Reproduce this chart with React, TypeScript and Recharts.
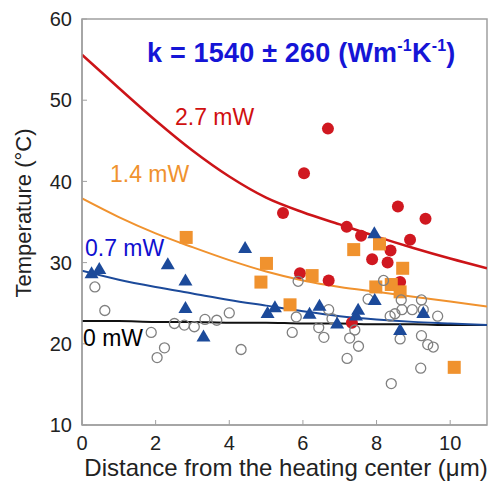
import React from 'react';
import {
  ComposedChart, Line, Scatter, XAxis, YAxis, ReferenceArea,
} from 'recharts';

// fitted curves, read at integer distances (µm)
const curveX = [0, 1, 2, 3, 4, 5, 6, 7, 8, 9, 10, 11];
const fit27 = [55.6, 51.5, 47.5, 43.8, 40.6, 38.0, 36.2, 34.7, 33.2, 31.8, 30.5, 29.3];
const fit14 = [37.9, 35.6, 33.6, 31.9, 30.3, 28.9, 27.8, 27.0, 26.4, 25.8, 25.2, 24.6];
const fit07 = [29.0, 27.9, 27.0, 26.2, 25.4, 24.7, 24.0, 23.4, 23.0, 22.7, 22.5, 22.3];
const fit00 = [22.8, 22.8, 22.7, 22.7, 22.6, 22.6, 22.5, 22.5, 22.4, 22.4, 22.3, 22.3];

// measured points
const pts27 = [
  { x: 5.46, y: 36.1 }, { x: 5.92, y: 28.7 }, { x: 6.03, y: 41.0 }, { x: 6.68, y: 46.5 },
  { x: 6.7, y: 27.8 }, { x: 7.19, y: 34.4 }, { x: 7.33, y: 22.6 }, { x: 7.58, y: 33.3 },
  { x: 7.88, y: 30.4 }, { x: 8.3, y: 30.0 }, { x: 8.38, y: 31.5 }, { x: 8.58, y: 36.9 },
  { x: 8.64, y: 27.6 }, { x: 8.91, y: 32.8 }, { x: 9.33, y: 35.4 },
];
const pts14 = [
  { x: 2.83, y: 33.1 }, { x: 4.86, y: 27.6 }, { x: 5.01, y: 29.9 }, { x: 5.65, y: 24.8 },
  { x: 6.25, y: 28.4 }, { x: 7.38, y: 31.6 }, { x: 7.98, y: 27.0 }, { x: 8.08, y: 32.3 },
  { x: 8.4, y: 27.3 }, { x: 8.64, y: 26.4 }, { x: 8.71, y: 29.3 }, { x: 10.11, y: 17.1 },
];
const pts07 = [
  { x: 0.26, y: 28.7 }, { x: 0.47, y: 29.2 }, { x: 2.33, y: 29.8 }, { x: 2.81, y: 27.8 },
  { x: 2.81, y: 24.4 }, { x: 3.3, y: 20.9 }, { x: 4.43, y: 31.8 }, { x: 5.04, y: 23.8 },
  { x: 5.24, y: 24.5 }, { x: 6.18, y: 23.7 }, { x: 6.45, y: 24.7 }, { x: 6.93, y: 22.5 },
  { x: 7.44, y: 23.5 }, { x: 7.5, y: 24.2 }, { x: 7.95, y: 25.4 }, { x: 7.94, y: 33.6 },
  { x: 8.64, y: 21.7 }, { x: 9.27, y: 23.8 },
];
const pts00 = [
  { x: 0.35, y: 27.0 }, { x: 0.62, y: 24.1 }, { x: 1.88, y: 21.4 }, { x: 2.04, y: 18.3 },
  { x: 2.24, y: 19.5 }, { x: 2.51, y: 22.5 }, { x: 2.78, y: 22.3 }, { x: 3.05, y: 22.1 },
  { x: 3.34, y: 23.0 }, { x: 3.66, y: 22.9 }, { x: 4.0, y: 23.8 }, { x: 4.32, y: 19.3 },
  { x: 5.71, y: 21.4 }, { x: 5.82, y: 23.3 }, { x: 5.87, y: 27.7 }, { x: 6.43, y: 22.0 },
  { x: 6.57, y: 20.8 }, { x: 6.7, y: 24.2 }, { x: 6.79, y: 23.1 }, { x: 7.2, y: 18.2 },
  { x: 7.27, y: 20.7 }, { x: 7.41, y: 21.7 }, { x: 7.51, y: 19.7 }, { x: 7.77, y: 25.5 },
  { x: 8.19, y: 27.8 }, { x: 8.37, y: 23.4 }, { x: 8.4, y: 15.1 }, { x: 8.5, y: 23.7 },
  { x: 8.64, y: 20.6 }, { x: 8.67, y: 25.4 }, { x: 8.69, y: 24.2 }, { x: 8.97, y: 24.2 },
  { x: 9.2, y: 17.0 }, { x: 9.22, y: 25.4 }, { x: 9.22, y: 21.0 }, { x: 9.27, y: 24.2 },
  { x: 9.39, y: 19.9 }, { x: 9.54, y: 19.6 }, { x: 9.66, y: 23.4 },
];

const xTicks = [0, 2, 4, 6, 8, 10];
const yTicks = [10, 20, 30, 40, 50, 60];

const RED = '#d01820';
const ORANGE = '#f0922e';
const BLUE = '#1c4a9a';
const GRAY = '#808080';
const FONT = '"Liberation Sans", Arial, sans-serif';

const toLine = (vals: number[]) => curveX.map((x, i) => ({ x, y: vals[i] }));

const Dot = (p: any) => <circle cx={p.cx} cy={p.cy} r={6} fill={RED} />;
const Square = (p: any) => <rect x={p.cx - 6.5} y={p.cy - 6.5} width={13} height={13} fill={ORANGE} />;
const Tri = (p: any) => (
  <path d={`M${p.cx},${p.cy - 7} L${p.cx + 7},${p.cy + 5} L${p.cx - 7},${p.cy + 5} Z`} fill={BLUE} />
);
const Ring = (p: any) => <circle cx={p.cx} cy={p.cy} r={5} fill="none" stroke={GRAY} strokeWidth={1.3} />;

const tickStyle = { fontSize: 20, fill: '#222', fontFamily: FONT };

export default function App() {
  return (
    <div style={{ position: 'absolute', left: 0, top: 0, width: 494, height: 485, background: '#fff' }}>
      <ComposedChart width={494} height={485} margin={{ top: 19, right: 7, left: 0, bottom: 0 }}>
        <XAxis
          type="number" dataKey="x" domain={[0, 11]} ticks={xTicks} allowDataOverflow
          height={60} tickSize={-5} tickMargin={16} tick={tickStyle}
          stroke="#a0a0a0" axisLine={{ stroke: '#a0a0a0', strokeWidth: 1.5 }}
        />
        <YAxis
          type="number" dataKey="y" domain={[10, 60]} ticks={yTicks} allowDataOverflow
          width={82} tickSize={-5} tickMargin={15} tick={tickStyle}
          stroke="#a0a0a0" axisLine={{ stroke: '#a0a0a0', strokeWidth: 1.5 }}
        />
        <ReferenceArea x1={0} x2={11} y1={10} y2={60} fill="none" stroke="#a0a0a0" strokeWidth={1.5} />
        <Line data={toLine(fit00)} dataKey="y" type="monotone" stroke="#111" strokeWidth={2} dot={false} isAnimationActive={false} />
        <Line data={toLine(fit07)} dataKey="y" type="monotone" stroke={BLUE} strokeWidth={2} dot={false} isAnimationActive={false} />
        <Line data={toLine(fit14)} dataKey="y" type="monotone" stroke={ORANGE} strokeWidth={2} dot={false} isAnimationActive={false} />
        <Line data={toLine(fit27)} dataKey="y" type="monotone" stroke="#cc1418" strokeWidth={2.5} dot={false} isAnimationActive={false} />
        <Scatter data={pts27} shape={Dot} isAnimationActive={false} />
        <Scatter data={pts14} shape={Square} isAnimationActive={false} />
        <Scatter data={pts00} shape={Ring} isAnimationActive={false} />
        <Scatter data={pts07} shape={Tri} isAnimationActive={false} />
      </ComposedChart>
      <svg width={494} height={485} style={{ position: 'absolute', left: 0, top: 0, pointerEvents: 'none' }}>
        <g fontFamily={FONT}>
          <text x={147} y={62} fontSize={27} fontWeight="bold" fill="#1515d6" letterSpacing={0.2}>
            k = 1540 ± 260 (Wm<tspan dy={-11} fontSize={16}>-1</tspan><tspan dy={11}>K</tspan><tspan dy={-11} fontSize={16}>-1</tspan><tspan dy={11}>)</tspan>
          </text>
          <text x={175} y={125} fontSize={23} fill="#d01010">2.7 mW</text>
          <text x={110} y={182} fontSize={23} fill={ORANGE}>1.4 mW</text>
          <text x={85} y={256} fontSize={23} fill="#1010d0">0.7 mW</text>
          <text x={83} y={346} fontSize={23} fill="#000">0 mW</text>
          <text x={286} y={476} fontSize={24} textAnchor="middle" fill="#222">Distance from the heating center (μm)</text>
          <text x={0} y={0} fontSize={22} textAnchor="middle" fill="#222" transform="translate(31,213) rotate(-90)">Temperature (°C)</text>
        </g>
      </svg>
    </div>
  );
}
